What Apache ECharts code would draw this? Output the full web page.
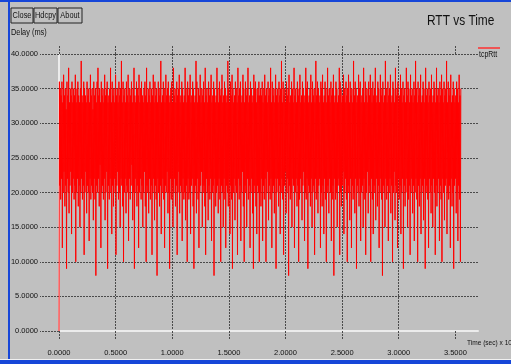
<!DOCTYPE html>
<html>
<head>
<meta charset="utf-8">
<script src="https://cdn.jsdelivr.net/npm/echarts@6/dist/echarts.min.js"></script>
<style>
  html, body { margin: 0; padding: 0; background: #c0c0c0; }
  #chart { width: 511px; height: 364px; }
</style>
</head>
<body>
<div id="chart"></div>
<script>
// RTT samples (ms), evenly spaced over 0 .. ~3.55 (sec x 10^3)
const sampleStep = 0.0037;
const rttFirstHalf = [
  0, 36, 21, 35, 19, 34, 22, 36, 12, 33, 20, 37, 23, 34, 18, 35, 21, 32, 9, 36,
  22, 34, 20, 38, 17, 33, 21, 35, 23, 34, 14, 36, 20, 33, 22, 35, 19, 34, 21, 37,
  10, 33, 20, 35, 22, 36, 18, 34, 21, 33, 15, 35, 20, 39, 22, 34, 19, 33, 21, 36,
  11, 35, 20, 34, 23, 33, 17, 36, 21, 34, 20, 35, 13, 33, 22, 37, 19, 34, 21, 35,
  20, 32, 16, 36, 22, 34, 19, 35, 8, 33, 21, 36, 20, 38, 22, 34, 18, 35, 24, 33,
  12, 36, 20, 34, 21, 35, 19, 33, 22, 37, 16, 34, 20, 35, 23, 36, 9, 33, 21, 34,
  19, 35, 22, 38, 20, 33, 14, 36, 21, 34, 18, 35, 22, 33, 20, 37, 11, 34, 21, 35,
  23, 33, 19, 36, 20, 34, 15, 35, 22, 39, 21, 33, 18, 36, 10, 34, 20, 35, 22, 33,
  17, 36, 21, 34, 20, 37, 13, 33, 22, 35, 19, 34, 21, 36, 24, 33, 16, 35, 20, 38,
  9, 34, 22, 33, 20, 36, 18, 35, 21, 34, 12, 37, 20, 33, 22, 35, 19, 36, 21, 34,
  15, 33, 20, 35, 23, 36, 18, 34, 10, 38, 21, 33, 20, 35, 17, 34, 22, 36, 19, 33,
  21, 35, 11, 34, 20, 37, 22, 33, 16, 36, 21, 34, 19, 35, 8, 33, 22, 36, 20, 34,
  18, 35, 21, 39, 14, 33, 20, 34, 22, 36, 19, 35, 12, 33, 21, 37, 20, 34, 23, 35,
  17, 36, 20, 33, 9, 34, 22, 35, 19, 36, 21, 33, 15, 38, 20, 34, 22, 35, 18, 33,
  21, 36, 11, 34, 20, 35, 23, 37, 17, 33, 21, 34, 20, 36, 13, 35, 22, 33, 19, 34,
  20, 38, 16, 35, 21, 33, 10, 36, 22, 34, 19, 35, 20, 37, 14, 33, 21, 34, 22, 36,
  18, 35, 9, 33, 20, 34, 21, 39, 17, 36, 22, 33, 19, 35, 12, 34, 20, 37, 21, 33,
  23, 35, 15, 34, 20, 36, 21, 33, 18, 38, 11, 34, 22, 35, 20, 33, 16, 36, 21, 34,
  19, 35, 22, 37, 13, 33, 20, 34, 21, 36, 8, 35, 22, 33, 18, 34, 20, 38, 21, 35,
  17, 33, 22, 36, 19, 34, 10, 35, 21, 37, 20, 33, 15, 34, 22, 36, 19, 35, 12, 33,
  21, 34, 20, 39, 18, 35, 22, 33, 14, 36, 21, 34, 19, 37, 9, 35, 20, 33, 22, 34,
  16, 36, 21, 35, 20, 33, 11, 38, 22, 34, 19, 35, 21, 36, 13, 33, 20, 34, 23, 37,
  18, 35, 10, 33, 21, 36, 20, 34, 15, 35, 22, 38, 19, 33, 21, 34, 12, 36, 20, 35,
  22, 33, 17, 34, 9, 37, 21, 35, 20, 36, 18, 33, 14, 35, 21, 34, 20, 36, 10, 34
];
const rttSecondHalf = [
  20, 35, 18, 34, 22, 36, 13, 33, 21, 35, 19, 37, 22, 34, 10, 35, 20, 33, 23, 36,
  16, 34, 21, 35, 19, 38, 22, 33, 12, 36, 20, 34, 21, 35, 17, 33, 22, 37, 9, 34,
  20, 35, 22, 33, 18, 36, 21, 34, 14, 35, 20, 39, 22, 33, 19, 36, 11, 34, 21, 35,
  23, 33, 17, 36, 20, 34, 22, 35, 8, 37, 21, 33, 19, 34, 20, 36, 15, 35, 22, 33,
  21, 38, 12, 34, 20, 35, 22, 33, 18, 36, 21, 34, 10, 35, 19, 37, 22, 33, 20, 34,
  16, 36, 21, 35, 23, 33, 13, 34, 20, 38, 19, 35, 22, 36, 9, 33, 21, 34, 20, 35,
  18, 37, 22, 33, 15, 36, 20, 34, 21, 35, 11, 33, 22, 39, 19, 34, 20, 36, 17, 35,
  21, 33, 22, 34, 12, 36, 20, 35, 18, 37, 21, 33, 14, 34, 22, 36, 19, 35, 10, 33,
  20, 38, 21, 34, 17, 35, 22, 33, 20, 36, 13, 34, 19, 35, 21, 37, 8, 33, 22, 34,
  19, 36, 20, 35, 15, 33, 21, 34, 22, 38, 11, 36, 20, 35, 18, 33, 21, 34, 23, 37,
  14, 35, 20, 33, 22, 36, 19, 34, 10, 35, 21, 37, 20, 33, 16, 36, 22, 34, 12, 35,
  21, 33, 19, 39, 20, 34, 17, 36, 22, 35, 9, 33, 21, 34, 20, 37, 18, 35, 22, 36,
  13, 33, 20, 34, 21, 35, 15, 38, 22, 33, 19, 36, 11, 34, 20, 35, 23, 33, 17, 36,
  21, 34, 20, 37, 10, 35, 22, 33, 19, 36, 14, 34, 21, 35, 20, 38, 16, 33, 22, 34,
  18, 36, 21, 35, 12, 33, 20, 37, 22, 34, 19, 35, 8, 36, 21, 33, 20, 34, 15, 39,
  22, 35, 19, 33, 21, 36, 13, 34, 20, 35, 22, 37, 17, 33, 21, 34, 10, 36, 20, 35,
  23, 33, 16, 38, 21, 34, 20, 35, 12, 36, 22, 33, 19, 34, 21, 37, 14, 35, 20, 33,
  22, 36, 9, 34, 21, 35, 18, 33, 20, 38, 22, 34, 15, 36, 19, 35, 21, 33, 11, 37,
  20, 34, 22, 35, 17, 33, 21, 36, 13, 34, 20, 39, 22, 35, 19, 33, 10, 36, 21, 34,
  18, 35, 22, 37, 14, 33, 20, 34, 21, 36, 16, 35, 22, 33, 9, 38, 20, 34, 21, 35,
  19, 33, 12, 36, 22, 34, 20, 35, 17, 37, 21, 33, 15, 34, 22, 36, 20, 35, 11, 33,
  21, 38, 18, 34, 20, 35, 22, 33, 13, 36, 21, 34, 19, 37, 10, 35, 22, 33, 20, 36,
  16, 34, 21, 35, 22, 39, 14, 33, 20, 36, 19, 34, 21, 35, 12, 37, 22, 33, 18, 34,
  20, 36, 9, 35, 21, 33, 22, 34, 17, 36, 20, 35, 13, 33, 21, 37, 19, 34, 10, 35
];
const rtt = rttFirstHalf.concat(rttSecondHalf);
const xTicks = [0, 0.5, 1.0, 1.5, 2.0, 2.5, 3.0, 3.5];
const buttons = ["Close", "Hdcpy", "About"];

const FONT = "'Liberation Sans', Arial, sans-serif";
const NARROW = 0.82; // the original UI font is a condensed sans
const gridDots = { color: "#4a4a4a", type: [2, 1], width: 1 };

const chart = echarts.init(document.getElementById("chart"));

function narrowText(x, y, text, size, align) {
  return {
    type: "text",
    x: x,
    y: y,
    scaleX: NARROW,
    style: { text: text, font: size + "px " + FONT, fill: "#111", align: align || "left", verticalAlign: "middle" },
  };
}

const buttonGraphics = [];
const btnX = [11, 34, 58];
const btnW = [22, 23, 24];
buttons.forEach((label, i) => {
  buttonGraphics.push({
    type: "rect",
    shape: { x: btnX[i], y: 8, width: btnW[i], height: 15 },
    style: { fill: "#c0c0c0", stroke: "#222", lineWidth: 1 },
  });
  buttonGraphics.push(narrowText(btnX[i] + btnW[i] / 2, 16, label, 9, "center"));
});

chart.setOption({
  backgroundColor: "#c0c0c0",
  animation: false,
  grid: { left: 59, right: 33, top: 54, bottom: 33 },
  xAxis: [
    {
      type: "value",
      min: 0,
      max: 3.7,
      interval: 0.5,
      axisLine: { lineStyle: { color: "#ececec", width: 2 } },
      axisTick: { length: 9, customValues: xTicks, lineStyle: gridDots },
      axisLabel: {
        customValues: xTicks,
        margin: 18,
        fontFamily: FONT,
        fontSize: 7.5,
        color: "#111",
        formatter: (v) => v.toFixed(4),
      },
      splitLine: { show: true, showMinLine: false, showMaxLine: false, lineStyle: gridDots },
    },
    {
      type: "value",
      position: "top",
      min: 0,
      max: 3.7,
      interval: 0.5,
      axisLine: { show: false },
      axisTick: { show: true, length: 9, customValues: xTicks, lineStyle: gridDots },
      axisLabel: { show: false },
      splitLine: { show: false },
    },
  ],
  yAxis: {
    type: "value",
    min: 0,
    max: 40,
    interval: 5,
    axisLine: { show: true, lineStyle: { color: "#ececec", width: 2 } },
    axisTick: { show: true, length: 19, lineStyle: gridDots },
    axisLabel: {
      margin: 21,
      fontFamily: FONT,
      fontSize: 7.5,
      color: "#111",
      formatter: (v) => v.toFixed(4),
    },
    splitLine: { show: true, showMinLine: false, lineStyle: gridDots },
  },
  series: [
    {
      name: "tcpRtt",
      type: "line",
      xAxisIndex: 0,
      data: rtt.map((v, i) => [i * sampleStep, v]),
      showSymbol: false,
      sampling: null,
      lineStyle: { color: "#ff0000", width: 1 },
      z: 3,
    },
  ],
  graphic: [
    // window frame
    { type: "rect", shape: { x: 0, y: 0, width: 511, height: 2 }, style: { fill: "#1646d8" } },
    { type: "rect", shape: { x: 8, y: 0, width: 2, height: 364 }, style: { fill: "#1646d8" } },
    { type: "rect", shape: { x: 0, y: 359, width: 511, height: 1 }, style: { fill: "#f0f0f0" } },
    { type: "rect", shape: { x: 0, y: 360, width: 511, height: 4 }, style: { fill: "#1646d8" } },
    ...buttonGraphics,
    narrowText(427, 21, "RTT vs Time", 14.5),
    narrowText(11, 33, "Delay (ms)", 9),
    {
      type: "line",
      shape: { x1: 478, y1: 48, x2: 500, y2: 48 },
      style: { stroke: "#ff3030", lineWidth: 1.5 },
    },
    narrowText(479, 55, "tcpRtt", 8.5),
    narrowText(467, 343, "Time (sec) x 10", 8),
  ],
});
</script>
</body>
</html>
